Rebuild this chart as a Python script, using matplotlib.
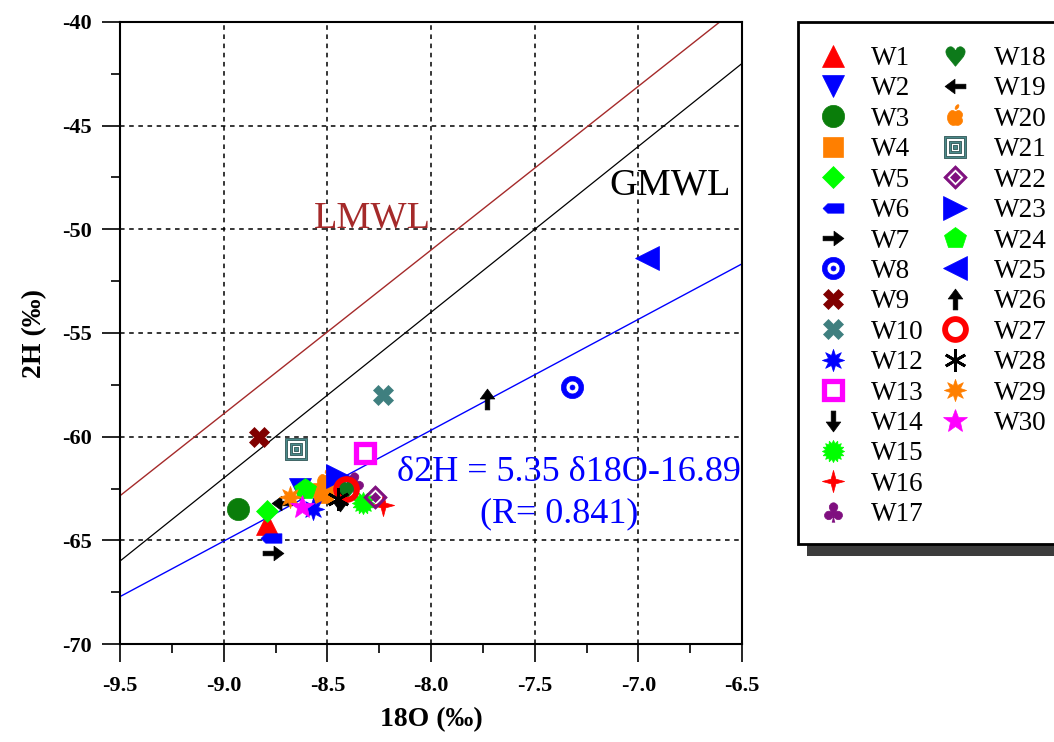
import numpy as np
import matplotlib
matplotlib.use("Agg")
import matplotlib.pyplot as plt
from matplotlib.path import Path
from matplotlib.patches import Rectangle
from matplotlib.ticker import MultipleLocator, FormatStrFormatter

plt.rcParams["font.family"] = ["Liberation Serif", "DejaVu Serif"]

# ---- data -------------------------------------------------------------
wells = ["W1", "W2", "W3", "W4", "W5", "W6", "W7", "W8", "W9", "W10",
         "W12", "W13", "W14", "W15", "W16", "W17", "W18", "W19", "W20",
         "W21", "W22", "W23", "W24", "W25", "W26", "W27", "W28", "W29", "W30"]
d18o = [-8.79, -8.63, -8.93, -8.52, -8.79, -8.77, -8.76, -7.32, -8.83, -8.23,
        -8.57, -8.32, -8.44, -8.33, -8.23, -8.37, -8.41, -8.72, -8.51,
        -8.65, -8.27, -8.45, -8.61, -6.96, -7.73, -8.41, -8.45, -8.68, -8.62]
d2h = [-64.2, -62.5, -63.5, -62.7, -63.6, -64.9, -65.6, -57.6, -60.0, -58.0,
       -63.5, -60.8, -63.1, -63.2, -63.3, -62.2, -62.5, -63.2, -62.1,
       -60.6, -62.9, -61.9, -62.5, -51.4, -58.2, -62.5, -63.0, -62.9, -63.4]

fit_slope, fit_intercept, fit_r = 5.35, -16.89, 0.841
gmwl_slope, gmwl_intercept = 8.0, 10.0
lmwl_slope, lmwl_intercept = 7.9, 12.2

x_range = (-9.5, -6.5)
y_range = (-70, -40)


# ---- custom marker shapes ------------------------------------------------
def poly(verts):
    verts = np.asarray(verts, dtype=float)
    v = np.vstack([verts, verts[:1]])
    codes = [Path.MOVETO] + [Path.LINETO] * (len(verts) - 1) + [Path.CLOSEPOLY]
    return Path(v, codes)


def circle_pts(r, cx=0.0, cy=0.0, n=60):
    t = np.linspace(0, 2 * np.pi, n, endpoint=False)
    return np.column_stack([cx + r * np.cos(t), cy + r * np.sin(t)])


def square_pts(h):
    return np.array([[-h, -h], [h, -h], [h, h], [-h, h]])


def diamond_pts(h):
    return np.array([[0, -h], [h, 0], [0, h], [-h, 0]])


def compound(*parts):
    return Path.make_compound_path(*[poly(p) for p in parts])


def rotate(pts, deg):
    a = np.deg2rad(deg)
    R = np.array([[np.cos(a), -np.sin(a)], [np.sin(a), np.cos(a)]])
    return np.asarray(pts) @ R.T


def seal(n, inner, phase=90):
    t = np.deg2rad(phase) + np.arange(2 * n) * np.pi / n
    r = np.where(np.arange(2 * n) % 2 == 0, 1.0, inner)
    return poly(np.column_stack([r * np.cos(t), r * np.sin(t)]))


ARROW = np.array([[-1.0, -0.22], [0.05, -0.22], [0.05, -0.7], [1.0, 0.0],
                  [0.05, 0.7], [0.05, 0.22], [-1.0, 0.22]])


def arrow(deg):
    return poly(rotate(ARROW, deg))


tag = poly([[-1, 0], [-0.55, 0.45], [1, 0.45], [1, -0.45], [-0.55, -0.45]])
target = compound(circle_pts(1.0), circle_pts(0.58)[::-1], circle_pts(0.22))
nested_square = compound(square_pts(1.0), square_pts(0.8)[::-1],
                         square_pts(0.58), square_pts(0.4)[::-1],
                         square_pts(0.18))
nested_diamond = compound(diamond_pts(1.0), diamond_pts(0.72)[::-1],
                          diamond_pts(0.42))

th = np.linspace(-np.pi / 2, 1.5 * np.pi, 120, endpoint=False)
rr = (1 - 0.25 * np.exp(-((th - np.pi / 2) / 0.35) ** 2)
      - 0.12 * np.exp(-((th - 1.5 * np.pi) / 0.35) ** 2)
      - 0.12 * np.exp(-((th + np.pi / 2) / 0.35) ** 2)
      - 0.22 * np.exp(-(th / 0.32) ** 2))
apple_body = np.column_stack([0.95 * rr * np.cos(th), rr * np.sin(th) - 0.15])
leaf = rotate(np.column_stack([0.16 * np.cos(th), 0.32 * np.sin(th)]), -35) + [0.18, 1.12]
apple = compound(apple_body, leaf)

RED, BLUE, GREEN, LIME = "#ff0000", "#0000ff", "#0a7d0a", "#00ff00"
ORANGE, MAGENTA, PURPLE = "#ff7f00", "#ff00ff", "#7f0f7f"
TEAL, MAROON = "#3f7f7f", "#800000"

styles = {
    "W1": dict(marker="^", color=RED, ms=16),
    "W2": dict(marker="v", color=BLUE, ms=16),
    "W3": dict(marker="o", color=GREEN, ms=16),
    "W4": dict(marker="s", color=ORANGE, ms=14),
    "W5": dict(marker="D", color=LIME, ms=11),
    "W6": dict(marker=tag, color=BLUE, ms=15),
    "W7": dict(marker=arrow(0), color="black", ms=15),
    "W8": dict(marker=target, color=BLUE, ms=16),
    "W9": dict(marker="X", color=MAROON, ms=15),
    "W10": dict(marker="X", color=TEAL, ms=15),
    "W12": dict(marker=seal(8, 0.48), color=BLUE, ms=16),
    "W13": dict(marker="s", color=MAGENTA, ms=13, mfc="white", mew=3.8),
    "W14": dict(marker=arrow(-90), color="black", ms=15),
    "W15": dict(marker=seal(16, 0.72), color=LIME, ms=16),
    "W16": dict(marker=seal(4, 0.3), color=RED, ms=16),
    "W17": dict(marker="$\u2663$", color=PURPLE, ms=14),
    "W18": dict(marker="$\u2665$", color="#0d7a1a", ms=14),
    "W19": dict(marker=arrow(180), color="black", ms=15),
    "W20": dict(marker=apple, color=ORANGE, ms=17),
    "W21": dict(marker=nested_square, color="#4a8a8a", ms=16, mec="#2f5555", mew=0.6),
    "W22": dict(marker=nested_diamond, color=PURPLE, ms=17),
    "W23": dict(marker=">", color=BLUE, ms=17),
    "W24": dict(marker="p", color=LIME, ms=16),
    "W25": dict(marker="<", color=BLUE, ms=17),
    "W26": dict(marker=arrow(90), color="black", ms=15),
    "W27": dict(marker="o", color=RED, ms=15, mfc="none", mew=4.2),
    "W28": dict(marker=(6, 2, 0), color="black", ms=16, mew=2),
    "W29": dict(marker=seal(8, 0.48), color=ORANGE, ms=16),
    "W30": dict(marker="*", color=MAGENTA, ms=18),
}

# ---- figure ----------------------------------------------------------------
W, H = 1054, 742
fig = plt.figure(figsize=(W / 100, H / 100), dpi=100)
ax = fig.add_axes([120 / W, 1 - 644 / H, 622 / W, 622 / H])

xs = np.array(x_range)
ax.plot(xs, lmwl_slope * xs + lmwl_intercept, color="#a52a2a", lw=1.0, zorder=2)
ax.plot(xs, gmwl_slope * xs + gmwl_intercept, color="black", lw=0.9, zorder=2)
ax.plot(xs, fit_slope * xs + fit_intercept, color=BLUE, lw=1.0, zorder=2)

handles = []
for name, x, y in zip(wells, d18o, d2h):
    st = dict(styles[name])
    color = st.pop("color")
    st.setdefault("mfc", color)
    st.setdefault("mec", color)
    st.setdefault("mew", 0.5)
    (h,) = ax.plot([x], [y], linestyle="none", label=name, zorder=3, **st)
    handles.append(h)

ax.set_xlim(*x_range)
ax.set_ylim(*y_range)
ax.xaxis.set_major_locator(MultipleLocator(0.5))
ax.xaxis.set_minor_locator(MultipleLocator(0.25))
ax.yaxis.set_major_locator(MultipleLocator(5))
ax.yaxis.set_minor_locator(MultipleLocator(2.5))
ax.xaxis.set_major_formatter(FormatStrFormatter("%.1f"))
ax.yaxis.set_major_formatter(FormatStrFormatter("%d"))
ax.tick_params(which="major", direction="out", length=13, width=1.2, pad=7,
               labelsize=16)
ax.tick_params(axis="x", which="major", pad=10)
ax.tick_params(which="minor", direction="out", length=6.5, width=1.2)
for lab in ax.get_xticklabels() + ax.get_yticklabels():
    lab.set_fontweight("bold")
for sp in ax.spines.values():
    sp.set_linewidth(1.5)
ax.grid(True, which="major", color="black", linestyle=(0, (3, 3)), linewidth=1.1)
ax.set_axisbelow(True)

ax.set_xlabel("18O (\u2030)", fontsize=20, fontweight="bold", labelpad=8)
ax.set_ylabel("2H (\u2030)", fontsize=20, fontweight="bold", labelpad=11)

ax.text(-8.284, -49.45, "LMWL", color="#a52a2a", fontsize=27.5,
        ha="center", va="center")
ax.text(-6.847, -47.86, "GMWL", color="black", fontsize=27.5,
        ha="center", va="center")
ax.text(-7.334, -61.71, f"\u03b42H = {fit_slope} \u03b418O{fit_intercept}",
        color=BLUE, fontsize=26, ha="center", va="center")
ax.text(-7.382, -63.73, f"(R= {fit_r})", color=BLUE, fontsize=26,
        ha="center", va="center")

# ---- legend box with drop shadow -------------------------------------------
bx0, by_top, by_bot = 798, 22, 544
fig.patches.append(Rectangle(((bx0 + 9) / W, 1 - (by_bot + 12) / H),
                             (W + 40 - bx0) / W, (by_bot - by_top) / H,
                             transform=fig.transFigure, facecolor="#3c3c3c",
                             edgecolor="none", zorder=1))
fig.patches.append(Rectangle((bx0 / W, 1 - by_bot / H),
                             (W + 40 - bx0) / W, (by_bot - by_top) / H,
                             transform=fig.transFigure, facecolor="white",
                             edgecolor="black", linewidth=2, zorder=2))

blank = [plt.Line2D([], [], linestyle="none") for _ in range(3)]
leg = fig.legend(handles + blank, wells + [""] * 3, loc="upper left",
                 bbox_to_anchor=(820 / W, 1 - 46 / H), ncol=2, frameon=False,
                 fontsize=19.5, numpoints=1, handlelength=0.95,
                 handletextpad=0.95, columnspacing=0.66, labelspacing=0.2,
                 borderpad=0, borderaxespad=0)
leg.set_zorder(3)

fig.savefig("out.png", dpi=100)
